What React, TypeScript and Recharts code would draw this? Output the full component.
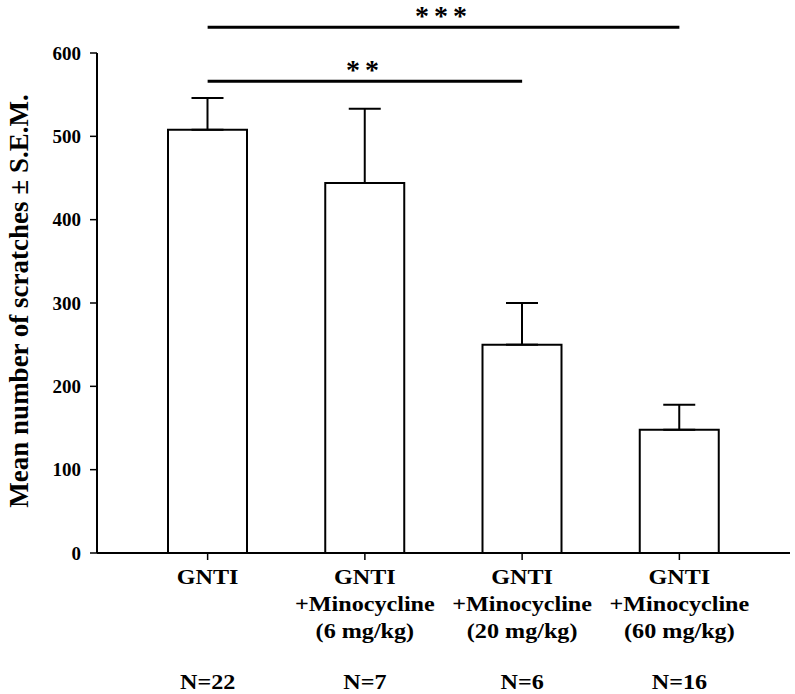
import React from "react";
import {
  ComposedChart,
  Bar,
  ErrorBar,
  XAxis,
  YAxis,
  ReferenceLine,
  Label,
} from "recharts";

const categories = ["GNTI", "GNTI 6", "GNTI 20", "GNTI 60"];
const labelLines = [
  ["GNTI"],
  ["GNTI", "+Minocycline", "(6 mg/kg)"],
  ["GNTI", "+Minocycline", "(20 mg/kg)"],
  ["GNTI", "+Minocycline", "(60 mg/kg)"],
];
const nLabels = ["N=22", "N=7", "N=6", "N=16"];
const means = [508, 444, 250, 148];
const sems = [38, 89, 50, 30];
const yTicks = [0, 100, 200, 300, 400, 500, 600];

// significance brackets: from group, to group, height, stars
const sigFrom = ["GNTI", "GNTI"];
const sigTo = ["GNTI 20", "GNTI 60"];
const sigLevel = [566, 631];
const sigStars = ["**", "***"];

const data = categories.map((c, i) => ({
  name: c,
  mean: means[i],
  err: [0, sems[i]],
}));

const FONT = "'Liberation Serif', 'Times New Roman', serif";

const CategoryTick = (props: any) => {
  const { x, y, payload } = props;
  const lines = labelLines[payload.index] || [];
  return (
    <g transform={`translate(${x},${y}) scale(1.15,1)`}>
      <text
        textAnchor="middle"
        fontFamily={FONT}
        fontWeight="bold"
        fontSize={21}
        fill="#000"
      >
        {lines.map((l, i) => (
          <tspan key={i} x={0} y={22 + i * 27}>
            {l}
          </tspan>
        ))}
      </text>
      <text
        x={0}
        y={127}
        textAnchor="middle"
        fontFamily={FONT}
        fontWeight="bold"
        fontSize={21}
        fill="#000"
      >
        {nLabels[payload.index]}
      </text>
    </g>
  );
};

const YTitle = () => (
  <text
    x={19}
    y={301}
    transform="rotate(-90, 19, 301)"
    textAnchor="middle"
    dominantBaseline="central"
    fontFamily={FONT}
    fontWeight="bold"
    fontSize={27}
    fill="#000"
  >
    Mean number of scratches ± S.E.M.
  </text>
);

export default function App() {
  return (
    <div style={{ position: "absolute", left: 0, top: 0, background: "#fff" }}>
      <ComposedChart
        width={795}
        height={694}
        data={data}
        margin={{ top: 53, right: 5, bottom: 0, left: 0 }}
      >
        <XAxis
          dataKey="name"
          height={141}
          padding={{ left: 32, right: 32 }}
          axisLine={{ stroke: "#000", strokeWidth: 2 }}
          tickLine={{ stroke: "#000", strokeWidth: 1.5 }}
          tickSize={7}
          tick={<CategoryTick />}
          interval={0}
        />
        <YAxis
          width={97}
          domain={[0, 600]}
          ticks={yTicks}
          axisLine={{ stroke: "#000", strokeWidth: 2 }}
          tickLine={{ stroke: "#000", strokeWidth: 1.5 }}
          tickSize={7}
          tickMargin={9}
          tick={{
            fill: "#000",
            fontFamily: FONT,
            fontWeight: "bold",
            fontSize: 19,
          }}
        >
          <Label content={<YTitle />} />
        </YAxis>
        <Bar
          dataKey="mean"
          fill="#fff"
          stroke="#000"
          strokeWidth={2}
          barSize={79}
          isAnimationActive={false}
        >
          <ErrorBar
            dataKey="err"
            direction="y"
            width={16}
            stroke="#000"
            strokeWidth={2}
            isAnimationActive={false}
          />
        </Bar>
        {sigLevel.map((lv, i) => (
          <ReferenceLine
            key={i}
            segment={[
              { x: sigFrom[i], y: lv },
              { x: sigTo[i], y: lv },
            ]}
            ifOverflow="visible"
            stroke="#000"
            strokeWidth={3}
            label={{
              value: sigStars[i],
              position: "top",
              offset: 2,
              fill: "#000",
              fontFamily: FONT,
              fontWeight: "bold",
              fontSize: 28,
              letterSpacing: 5,
            }}
          />
        ))}
      </ComposedChart>
    </div>
  );
}
